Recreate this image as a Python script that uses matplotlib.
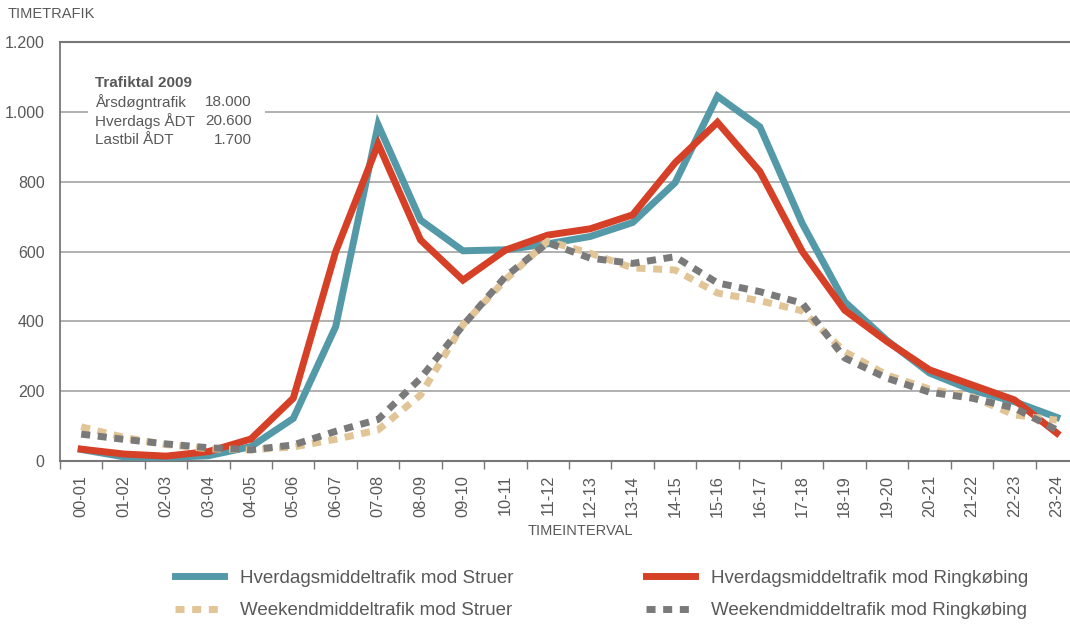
import matplotlib
matplotlib.use("Agg")
import matplotlib.pyplot as plt
from matplotlib.patches import Rectangle
from matplotlib.ticker import FuncFormatter

plt.rcParams["font.family"] = ["Liberation Sans", "DejaVu Sans"]

hours = ["00-01", "01-02", "02-03", "03-04", "04-05", "05-06", "06-07", "07-08",
         "08-09", "09-10", "10-11", "11-12", "12-13", "13-14", "14-15", "15-16",
         "16-17", "17-18", "18-19", "19-20", "20-21", "21-22", "22-23", "23-24"]

hverdag_struer = [33, 12, 10, 15, 41, 122, 385, 963, 690, 602, 605, 622, 643, 683,
                  797, 1045, 957, 680, 456, 345, 252, 203, 170, 125]
hverdag_ringk = [34, 20, 14, 27, 63, 180, 600, 908, 633, 518, 604, 647, 665, 705,
                 854, 970, 829, 600, 432, 342, 261, 218, 175, 80]
weekend_struer = [98, 68, 47, 35, 32, 40, 62, 89, 189, 390, 519, 630, 595, 553,
                  547, 481, 459, 430, 313, 246, 206, 184, 132, 117]
weekend_ringk = [77, 62, 49, 38, 32, 46, 85, 119, 237, 388, 528, 625, 581, 566,
                 585, 510, 485, 452, 295, 237, 197, 180, 152, 89]

W, H = 1070, 626
TXT = "#595959"


def fx(px):
    return px / W


def fy(py):
    return 1 - py / H


fig = plt.figure(figsize=(W / 100, H / 100), dpi=100)
ax = fig.add_axes([fx(60), fy(461), (1078 - 60) / W, (461 - 42) / H])

x = list(range(len(hours)))
lw = 5
l1, = ax.plot(x, hverdag_struer, color="#5499A8", lw=lw, solid_joinstyle="miter",
              label="Hverdagsmiddeltrafik mod Struer", zorder=3)
l2, = ax.plot(x, hverdag_ringk, color="#D54027", lw=lw, solid_joinstyle="miter",
              label="Hverdagsmiddeltrafik mod Ringkøbing", zorder=4)
l3, = ax.plot(x, weekend_struer, color="#E2C596", lw=lw, dashes=(1.3, 1.1),
              dash_capstyle="butt", label="Weekendmiddeltrafik mod Struer", zorder=5)
l4, = ax.plot(x, weekend_ringk, color="#7A7A7A", lw=lw, dashes=(1.3, 1.1),
              dash_capstyle="butt", label="Weekendmiddeltrafik mod Ringkøbing", zorder=6)

ax.set_xlim(-0.5, 23.5)
ax.set_ylim(0, 1200)
ax.set_yticks(range(0, 1201, 200))
ax.yaxis.set_major_formatter(FuncFormatter(lambda v, p: f"{int(v):,}".replace(",", ".")))
ax.set_xticks(x)
ax.set_xticklabels(hours, rotation=90)
ax.set_xticks([i - 0.5 for i in range(25)], minor=True)
ax.tick_params(axis="x", which="major", length=0, pad=10, labelsize=11.8, labelcolor=TXT)
ax.tick_params(axis="x", which="minor", length=6, color="#777777", width=1)
ax.tick_params(axis="y", length=0, pad=11, labelsize=11.5, labelcolor=TXT)

ax.grid(axis="y", color="#AAAAAA", lw=1.3, zorder=0)
ax.set_axisbelow(True)
for s in ["top", "right"]:
    ax.spines[s].set_visible(False)
ax.spines["left"].set_color("#777777")
ax.spines["left"].set_linewidth(1.3)
ax.spines["bottom"].set_color("#777777")
ax.spines["bottom"].set_linewidth(1.5)
ax.axhline(1200, color="#777777", lw=1.5, zorder=1, clip_on=False)

# info box
ax.add_patch(Rectangle((fx(88), fy(152)), fx(265) - fx(88), fy(70) - fy(152),
                       transform=fig.transFigure, facecolor="white",
                       edgecolor="none", zorder=2))
fig.text(fx(95), fy(83), "Trafiktal 2009", fontsize=11, fontweight="bold",
         color=TXT, va="center", zorder=7)
rows = [("Årsdøgntrafik", "18.000"), ("Hverdags ÅDT", "20.600"), ("Lastbil ÅDT", "1.700")]
for i, (lab, val) in enumerate(rows):
    yy = fy(102 + 19 * i)
    fig.text(fx(95), yy, lab, fontsize=11, color=TXT, va="center")
    fig.text(fx(252), yy, val, fontsize=11, color=TXT, va="center", ha="right")

fig.text(fx(8), fy(14), "TIMETRAFIK", fontsize=10.5, color=TXT, va="center")
fig.text(fx(580), fy(531), "TIMEINTERVAL", fontsize=10.5, color=TXT, va="center", ha="center")

# row-wise order: matplotlib fills legend columns first
fig.legend([l1, l3, l2, l4], [l.get_label() for l in (l1, l3, l2, l4)],
           loc="center left", bbox_to_anchor=(fx(158), fy(594.5)), ncol=2,
           frameon=False, fontsize=13.5, handlelength=2.6, handletextpad=0.85,
           columnspacing=7.1, labelspacing=0.8, labelcolor=TXT)

fig.savefig("out.png", dpi=100)
